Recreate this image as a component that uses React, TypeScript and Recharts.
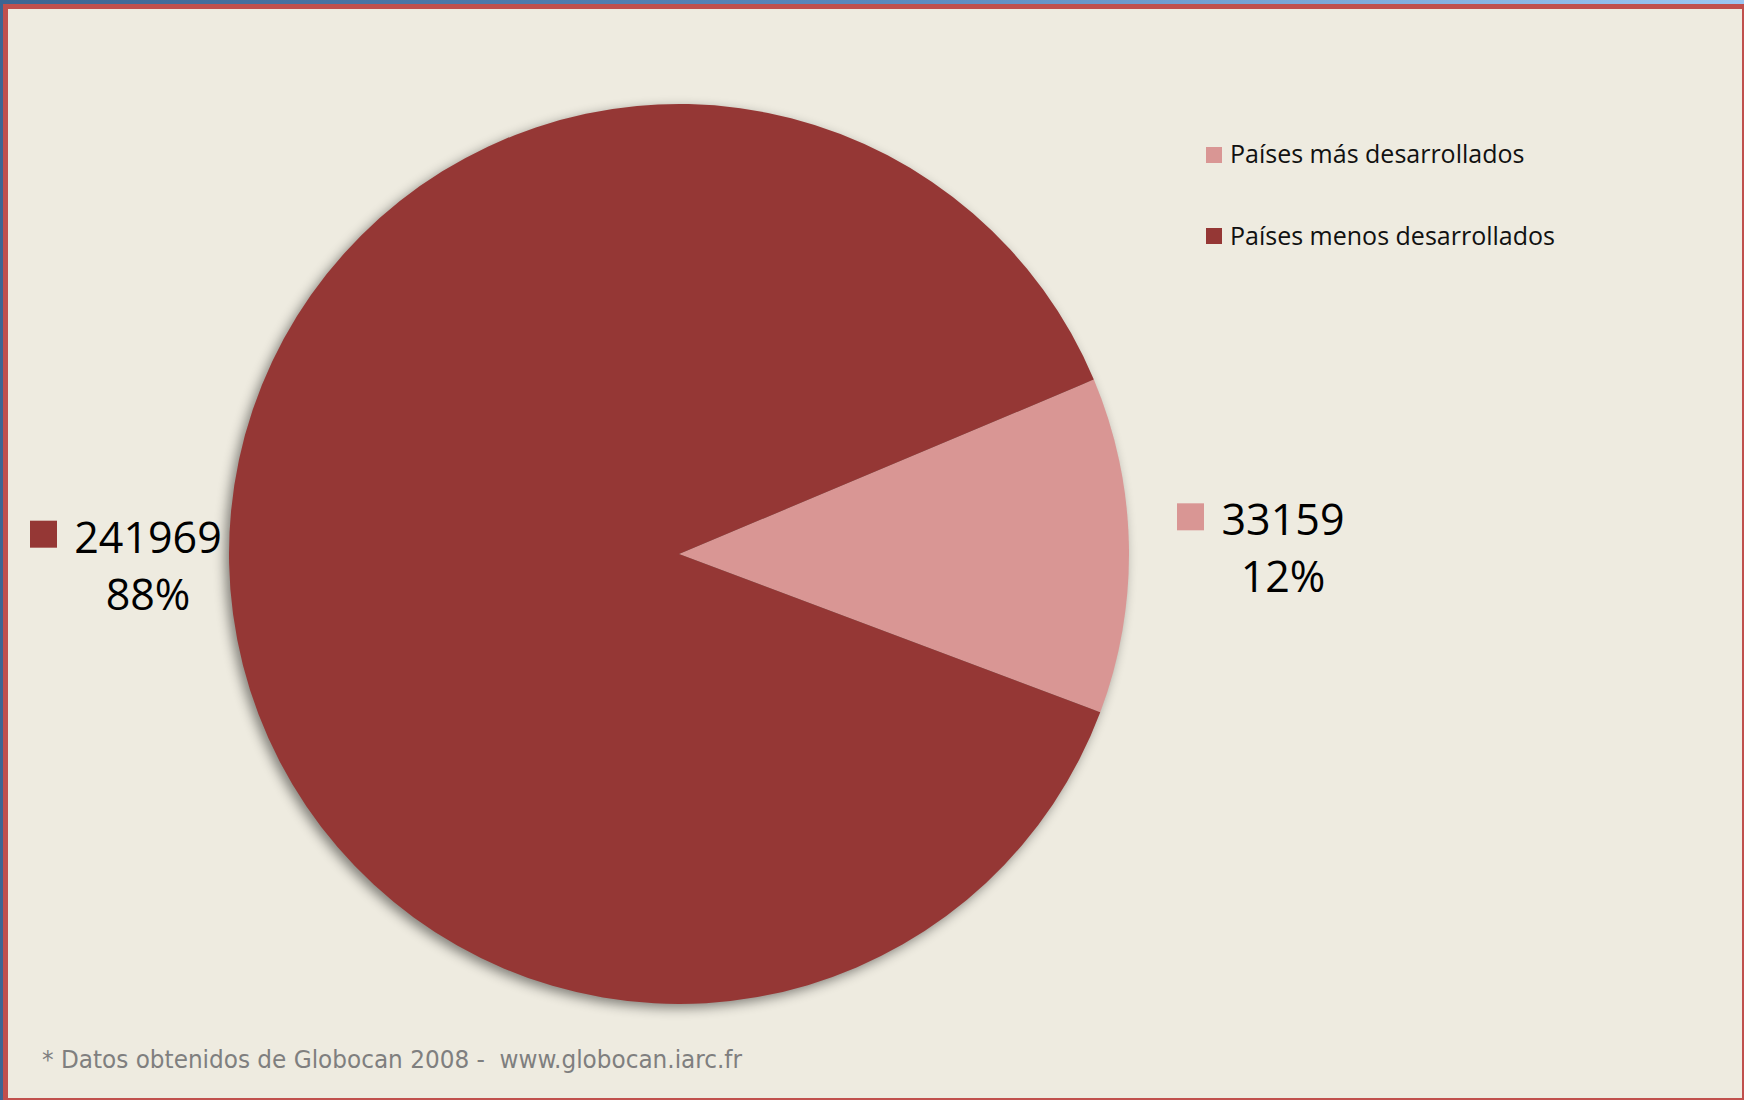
import { PieChart, Pie, Cell, Legend } from 'recharts'

// Globocan 2008 figures
const categories = ['Países más desarrollados', 'Países menos desarrollados']
const cases = [33159, 241969]
const sliceColors = ['#D99694', '#953735']

const data = categories.map((name, i) => ({ name, value: cases[i] }))

const W = 1744
const H = 1100
const CX = 679
const CY = 554
const R = 450
const START = 22.8

const labelFont = '"Open Sans", "Noto Sans", sans-serif'
const RAD = Math.PI / 180

const renderLabel = (props: any) => {
  const { cx, cy, midAngle, outerRadius, value, percent, fill } = props
  const cos = Math.cos(-midAngle * RAD)
  const y = cy + outerRadius * Math.sin(-midAngle * RAD)
  const valueText = String(value)
  const pctText = `${Math.round(percent * 100)}%`
  const digitW = 24
  const textW = valueText.length * digitW
  const box = 27
  const gap = 19
  let textLeft: number
  if (cos < 0) {
    textLeft = cx - outerRadius - 9 - textW
  } else {
    textLeft = cx + outerRadius + 48 + box + gap
  }
  const textCenter = textLeft + textW / 2
  const base = y - 10
  return (
    <g>
      <rect x={textLeft - gap - box} y={base - 32} width={box} height={box} fill={fill} />
      <text x={textCenter} y={base} textAnchor="middle" fontSize={43} fontFamily={labelFont} fill="#000">
        {valueText}
      </text>
      <text x={textCenter} y={base + 57} textAnchor="middle" fontSize={43} fontFamily={labelFont} fill="#000">
        {pctText}
      </text>
    </g>
  )
}

const renderLegend = () => (
  <svg width={480} height={140} style={{ display: 'block', overflow: 'visible' }}>
    {categories.map((name, i) => (
      <g key={name}>
        <rect x={0} y={7 + i * 81} width={16} height={16} fill={sliceColors[i]} />
        <text x={24} y={23 + i * 82} fontSize={25} fontFamily={labelFont} fill="#111">
          {name}
        </text>
      </g>
    ))}
  </svg>
)

export default function App() {
  return (
    <div
      style={{
        position: 'absolute',
        left: 0,
        top: 0,
        width: W,
        height: H,
        background: 'linear-gradient(90deg, #3d6592 0%, #5a88bd 50%, #9cc6f2 100%)',
        overflow: 'hidden',
      }}
    >
      <style>{`g:has(> .recharts-pie-sector) { filter: drop-shadow(-4px 4px 6px rgba(0,0,0,0.45)); }`}</style>
      <div
        style={{
          position: 'absolute',
          left: 3,
          top: 4,
          width: W - 3,
          height: H - 4,
          boxSizing: 'border-box',
          borderStyle: 'solid',
          borderColor: '#C0504D',
          borderWidth: '5px 2px 2px 5px',
          background: '#EEEBE0',
        }}
      />
      <div style={{ position: 'absolute', left: 0, top: 0 }}>
        <PieChart width={W} height={H} margin={{ top: 0, right: 0, bottom: 0, left: 0 }}>
          <Pie
            data={data}
            dataKey="value"
            nameKey="name"
            cx={CX}
            cy={CY}
            outerRadius={R}
            startAngle={START}
            endAngle={START - 360}
            stroke="none"
            label={renderLabel}
            labelLine={false}
            isAnimationActive={false}
          >
            {data.map((d, i) => (
              <Cell key={d.name} fill={sliceColors[i]} />
            ))}
          </Pie>
          <Legend
            content={renderLegend}
            wrapperStyle={{ position: 'absolute', left: 1206, top: 140, width: 480, height: 140 }}
          />
        </PieChart>
      </div>
      <svg style={{ position: 'absolute', left: 0, top: 0 }} width={W} height={H} pointerEvents="none">
        <text
          x={42}
          y={1068}
          fontSize={25}
          fontFamily='"Liberation Sans Narrow", "DejaVu Sans Condensed", sans-serif'
          fill="#7f7f7f"
          textLength={700}
          lengthAdjust="spacingAndGlyphs"
          style={{ whiteSpace: 'pre' }}
        >
          {'* Datos obtenidos de Globocan 2008 -  www.globocan.iarc.fr'}
        </text>
      </svg>
    </div>
  )
}
